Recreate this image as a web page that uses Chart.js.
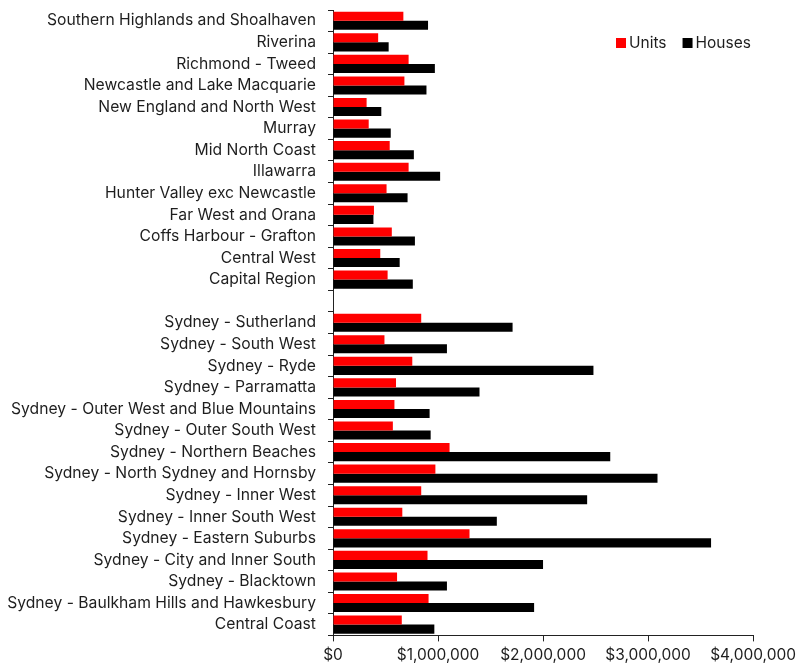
<!DOCTYPE html>
<html>
<head>
<meta charset="utf-8">
<script src="https://cdn.jsdelivr.net/npm/chart.js@4.4.1/dist/chart.umd.min.js"></script>
<style>
  html, body { margin: 0; padding: 0; background: #fff; }
  #wrap { width: 801px; height: 670px; }
</style>
</head>
<body>
<div id="wrap"><canvas id="c" width="801" height="670"></canvas></div>
<script>
// NSW regions, median prices; empty entry separates regional NSW from Sydney
const regions = [
  'Southern Highlands and Shoalhaven', 'Riverina', 'Richmond - Tweed',
  'Newcastle and Lake Macquarie', 'New England and North West', 'Murray',
  'Mid North Coast', 'Illawarra', 'Hunter Valley exc Newcastle',
  'Far West and Orana', 'Coffs Harbour - Grafton', 'Central West',
  'Capital Region', '',
  'Sydney - Sutherland', 'Sydney - South West', 'Sydney - Ryde',
  'Sydney - Parramatta', 'Sydney - Outer West and Blue Mountains',
  'Sydney - Outer South West', 'Sydney - Northern Beaches',
  'Sydney - North Sydney and Hornsby', 'Sydney - Inner West',
  'Sydney - Inner South West', 'Sydney - Eastern Suburbs',
  'Sydney - City and Inner South', 'Sydney - Blacktown',
  'Sydney - Baulkham Hills and Hawkesbury', 'Central Coast'
];

const units = [
  670000, 430000, 720000, 680000, 320000, 340000, 540000, 720000, 510000,
  390000, 560000, 450000, 520000, null,
  840000, 490000, 755000, 600000, 585000, 570000, 1110000, 975000,
  840000, 660000, 1300000, 900000, 610000, 910000, 655000
];

const houses = [
  905000, 530000, 970000, 890000, 460000, 550000, 770000, 1020000, 710000,
  385000, 780000, 635000, 760000, null,
  1710000, 1085000, 2480000, 1395000, 920000, 930000, 2640000, 3090000,
  2420000, 1560000, 3600000, 2000000, 1085000, 1915000, 965000
];

const xTicks = [0, 1000000, 2000000, 3000000, 4000000];

const FONT = 'Inter, "Noto Sans", sans-serif';
const TEXT = '#1e1e1e';

// Legend drawn in the upper right of the plot area
const insideLegend = {
  id: 'insideLegend',
  afterDraw(chart) {
    const ctx = chart.ctx;
    ctx.save();
    ctx.font = '15.5px ' + FONT;
    ctx.textBaseline = 'middle';
    let x = 616;
    const y = 43;
    chart.data.datasets.forEach((ds) => {
      ctx.fillStyle = ds.backgroundColor;
      ctx.fillRect(x, y - 5, 10, 10);
      ctx.fillStyle = TEXT;
      ctx.fillText(ds.label, x + 13, y);
      x += 13 + ctx.measureText(ds.label).width + 16;
    });
    ctx.restore();
  }
};

new Chart(document.getElementById('c'), {
  type: 'bar',
  data: {
    labels: regions,
    datasets: [
      { label: 'Units', data: units, backgroundColor: '#ff0000',
        categoryPercentage: 0.84, barPercentage: 1.0 },
      { label: 'Houses', data: houses, backgroundColor: '#000000',
        categoryPercentage: 0.84, barPercentage: 1.0 }
    ]
  },
  options: {
    indexAxis: 'y',
    responsive: false,
    animation: false,
    layout: { padding: { top: 10, right: 6, bottom: 0, left: 0 } },
    plugins: {
      legend: { display: false },
      tooltip: { enabled: false }
    },
    scales: {
      x: {
        min: 0,
        max: 4000000,
        afterBuildTicks(scale) {
          scale.ticks = xTicks.map(v => ({ value: v }));
        },
        grid: {
          drawOnChartArea: false,
          drawTicks: true,
          tickLength: 6,
          color: '#222'
        },
        border: { display: true, color: '#222', width: 1 },
        ticks: {
          color: TEXT,
          font: { family: FONT, size: 15.5 },
          padding: 5,
          maxRotation: 0,
          callback: (v) => '$' + Number(v).toLocaleString('en-US')
        }
      },
      y: {
        afterFit(scale) {
          scale.width = 333;
          scale.paddingTop = 0;
          scale.paddingBottom = 0;
        },
        grid: {
          drawOnChartArea: false,
          drawTicks: true,
          tickLength: 5,
          offset: true,
          color: '#222'
        },
        border: { display: true, color: '#222', width: 1 },
        ticks: {
          color: TEXT,
          font: { family: FONT, size: 15.7 },
          padding: 12,
          autoSkip: false
        }
      }
    }
  },
  plugins: [insideLegend]
});
</script>
</body>
</html>
